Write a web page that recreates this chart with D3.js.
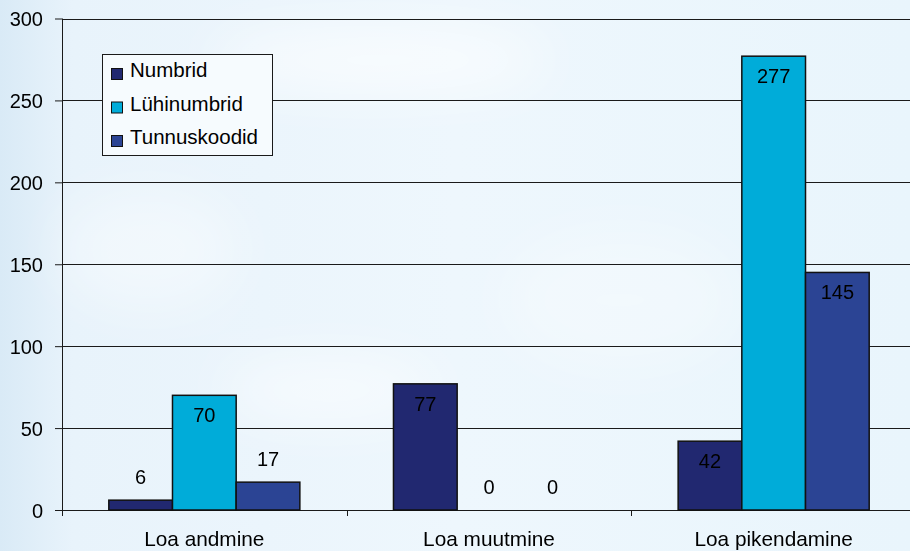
<!DOCTYPE html>
<html>
<head>
<meta charset="utf-8">
<script src="https://cdn.jsdelivr.net/npm/d3@7/dist/d3.min.js"></script>
<style>
  html, body { margin: 0; padding: 0; background: #eaf5fc; }
  svg { display: block; font-family: "Liberation Sans", Arial, sans-serif; }
</style>
</head>
<body>
<svg id="chart" width="910" height="551"></svg>
<script>
// Permit counts by operation type
const categories = ["Loa andmine", "Loa muutmine", "Loa pikendamine"];
const seriesNames = ["Numbrid", "Lühinumbrid", "Tunnuskoodid"];
const numbrid = [6, 77, 42];
const luhinumbrid = [70, 0, 277];
const tunnuskoodid = [17, 0, 145];
const yTicks = [0, 50, 100, 150, 200, 250, 300];
const colors = ["#212870", "#00acd9", "#2b4494"];

const seriesValues = [numbrid, luhinumbrid, tunnuskoodid];
const rows = categories.map((c, i) => ({
  category: c,
  values: seriesNames.map((s, j) => ({ series: s, value: seriesValues[j][i], color: colors[j] }))
}));

const W = 910, H = 551;
const plotLeft = 62, plotRight = 916, plotTop = 18.5, plotBottom = 510;
const svg = d3.select("#chart");

// Sky-like backdrop
const defs = svg.append("defs");
const bg = defs.append("linearGradient").attr("id", "sky").attr("x1", 0).attr("x2", 1).attr("y1", 0).attr("y2", 0);
bg.append("stop").attr("offset", "0%").attr("stop-color", "#d9eaf6");
bg.append("stop").attr("offset", "8%").attr("stop-color", "#e8f3fb");
bg.append("stop").attr("offset", "50%").attr("stop-color", "#eef7fd");
bg.append("stop").attr("offset", "100%").attr("stop-color", "#e9f5fc");
const blur = defs.append("filter").attr("id", "soft").attr("x", "-50%").attr("y", "-50%").attr("width", "200%").attr("height", "200%");
blur.append("feGaussianBlur").attr("stdDeviation", 28);
svg.append("rect").attr("width", W).attr("height", H).attr("fill", "url(#sky)");
const clouds = svg.append("g").attr("filter", "url(#soft)").attr("fill", "#ffffff");
clouds.append("ellipse").attr("cx", 380).attr("cy", 60).attr("rx", 170).attr("ry", 30).attr("opacity", 0.7);
clouds.append("ellipse").attr("cx", 330).attr("cy", 390).attr("rx", 110).attr("ry", 30).attr("opacity", 0.6);
clouds.append("ellipse").attr("cx", 150).attr("cy", 250).attr("rx", 90).attr("ry", 60).attr("opacity", 0.4);
clouds.append("ellipse").attr("cx", 620).attr("cy", 300).attr("rx", 120).attr("ry", 70).attr("opacity", 0.3);

const x = d3.scaleBand().domain(categories).range([plotLeft, plotRight]).padding(0);
const xi = d3.scaleBand().domain(seriesNames).range([0, x.bandwidth()]).paddingInner(0).paddingOuter(0.735);
const y = d3.scaleLinear().domain([0, 300]).range([plotBottom, plotTop]);

// Gridlines
svg.append("g")
  .selectAll("line").data(yTicks).join("line")
  .attr("x1", plotLeft).attr("x2", W)
  .attr("y1", d => Math.round(y(d)) + 0.5).attr("y2", d => Math.round(y(d)) + 0.5)
  .attr("stroke", "#1a1a1a").attr("stroke-width", 1);

// Y axis
const yAxis = svg.append("g").attr("transform", `translate(${plotLeft},0)`)
  .call(d3.axisLeft(y).tickValues(yTicks).tickSize(7).tickPadding(12).tickFormat(d3.format("d")));
yAxis.select(".domain").remove();
yAxis.selectAll(".tick line").attr("stroke", "#1a1a1a");
yAxis.selectAll("text").attr("font-size", 20).attr("fill", "#000").attr("dy", "0.36em").attr("font-family", "Liberation Sans, Arial, sans-serif");
svg.append("line").attr("x1", plotLeft + 0.5).attr("x2", plotLeft + 0.5).attr("y1", plotTop).attr("y2", plotBottom + 6)
  .attr("stroke", "#1a1a1a");

// Category ticks between groups
svg.append("g").selectAll("line").data(categories.slice(1)).join("line")
  .attr("x1", d => Math.round(x(d)) + 0.5).attr("x2", d => Math.round(x(d)) + 0.5)
  .attr("y1", plotBottom).attr("y2", plotBottom + 6).attr("stroke", "#1a1a1a");

// Category labels
svg.append("g").selectAll("text").data(categories).join("text")
  .attr("x", d => x(d) + x.bandwidth() / 2).attr("y", 546)
  .attr("text-anchor", "middle").attr("font-size", 20.8).attr("fill", "#000")
  .text(d => d);

// Bars
const groups = svg.append("g").selectAll("g").data(rows).join("g")
  .attr("transform", d => `translate(${x(d.category)},0)`);
groups.selectAll("rect").data(d => d.values.filter(v => v.value > 0)).join("rect")
  .attr("x", d => xi(d.series)).attr("width", xi.bandwidth())
  .attr("y", d => y(d.value)).attr("height", d => y(0) - y(d.value))
  .attr("fill", d => d.color).attr("stroke", "#111").attr("stroke-width", 1.5);

// Value labels: inside the top of tall bars, above short ones
groups.selectAll("text").data(d => d.values).join("text")
  .attr("x", d => xi(d.series) + xi.bandwidth() / 2)
  .attr("y", d => (y(0) - y(d.value)) > 40 ? y(d.value) + 27 : y(d.value) - 16)
  .attr("text-anchor", "middle").attr("font-size", 20).attr("fill", "#000")
  .text(d => d.value);

// Legend
const lg = svg.append("g").attr("transform", "translate(102,54)");
lg.append("rect").attr("x", 0.5).attr("y", 0.5).attr("width", 170).attr("height", 101)
  .attr("fill", "#f6fbfe").attr("stroke", "#1a1a1a").attr("stroke-width", 1);
const items = lg.selectAll("g").data(seriesNames).join("g")
  .attr("transform", (d, i) => `translate(0,${i * 33.5})`);
items.append("rect").attr("x", 9.5).attr("y", 14.5).attr("width", 11).attr("height", 11)
  .attr("fill", (d, i) => colors[i]).attr("stroke", "#111").attr("stroke-width", 1);
items.append("text").attr("x", 28).attr("y", 23).attr("font-size", 20.5).attr("fill", "#000")
  .text(d => d);
</script>
</body>
</html>
